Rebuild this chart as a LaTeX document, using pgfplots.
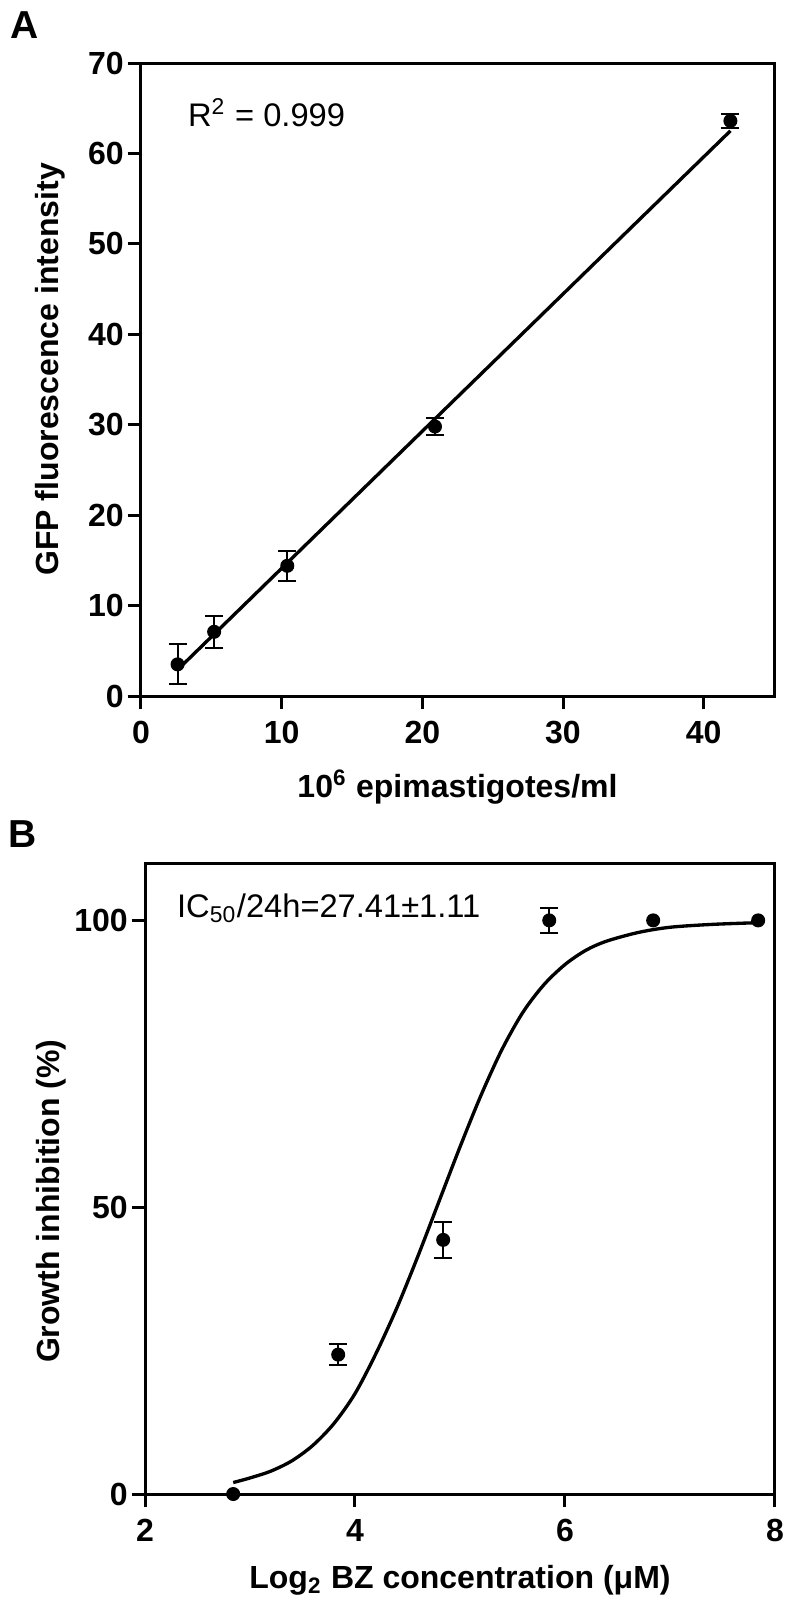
\documentclass[border=0pt]{standalone}
\usepackage{fontspec}
\setmainfont{Liberation Sans}
\usepackage{pgfplots}
\usepackage{pgfplotstable}
\pgfplotsset{compat=1.18}

% panel A: calibration points
\pgfplotstableread{
x     y     e
2.6   3.5   2.2
5.2   7.1   1.8
10.4  14.4  1.65
20.9  29.8  0.9
41.9  63.6  0.8
}\calib

% panel B: points with visible error bars
\pgfplotstableread{
x     y     e
3.84  24.3  1.8
4.84  44.3  3.2
5.85  100   2.2
}\inhibErr

% panel B: points without error bars
\pgfplotstableread{
x     y
2.84  0
6.84  100
7.84  100
}\inhibNoErr

% panel B: fitted dose-response curve
\pgfplotstableread{
x     y
2.84  2.0
3.0   2.8
3.2   4.0
3.4   5.8
3.6   8.5
3.8   12.3
4.0   17.5
4.2   24.5
4.4   32.5
4.6   41.5
4.8   51.0
5.0   60.5
5.2   69.5
5.4   77.5
5.6   84.0
5.8   88.8
6.0   92.3
6.2   94.8
6.4   96.4
6.7   97.9
7.0   98.8
7.4   99.3
7.84  99.6
}\curve

\pgfplotsset{
  gp/.style={
    scale only axis, clip=false,
    axis line style={line width=0.9pt},
    tick align=outside, tick pos=left,
    major tick length=4pt,
    every tick/.append style={black, line width=0.9pt},
    /pgf/number format/assume math mode=true,
    tick label style={font=\fontsize{9.6}{11}\selectfont\bfseries},
    yticklabel style={inner sep=1pt},
    label style={font=\fontsize{9.6}{11}\selectfont\bfseries},
  },
  dots/.style={black, only marks, mark=*, mark size=1.9pt},
  errs/.style={dots, error bars/.cd, y dir=both, y explicit,
    error bar style={line width=0.6pt},
    error mark options={rotate=90, mark size=2.7pt, line width=0.6pt}},
}

\begin{document}
\begin{tikzpicture}
\useasboundingbox (0pt,0pt) rectangle (236.7pt,-482.1pt);

\node[anchor=base west, inner sep=0, font=\fontsize{11.7}{13}\selectfont\bfseries] at (3pt,-11.4pt) {A};
\begin{axis}[gp,
    at={(42.3pt,-208.8pt)}, anchor=south west,
    width=189.9pt, height=189.9pt,
    xmin=0, xmax=45, ymin=0, ymax=70,
    xtick={0,10,20,30,40}, ytick={0,10,...,70},
    xlabel={10\textsuperscript{6} epimastigotes/ml},
    ylabel={GFP fluorescence intensity},
    xlabel style={at={(axis description cs:0.5,-0.1438)}, anchor=center},
    ylabel style={at={(axis description cs:-0.1438,0.516)}, anchor=center},
]
\addplot[black, line width=1pt] coordinates {(2.6,2.9) (41.9,62.5)};
\addplot[errs] table[x=x, y=y, y error=e] {\calib};
\node[anchor=base west, inner sep=0, font=\fontsize{9.8}{11}\selectfont] at (axis cs:3.3,63) {R\textsuperscript{2} = 0.999};
\end{axis}

\node[anchor=base west, inner sep=0, font=\fontsize{11.7}{13}\selectfont\bfseries] at (2.4pt,-254.1pt) {B};
\begin{axis}[gp,
    at={(43.5pt,-448.2pt)}, anchor=south west,
    width=189pt, height=189.3pt,
    xmin=2, xmax=8, ymin=0, ymax=110,
    xtick={2,4,6,8}, ytick={0,50,100},
    xlabel={Log\textsubscript{2} BZ concentration (μM)},
    ylabel={Growth inhibition (\%)},
    xlabel style={at={(axis description cs:0.5,-0.136)}, anchor=center},
    ylabel style={at={(axis description cs:-0.149,0.464)}, anchor=center},
]
\addplot[black, line width=1pt, smooth] table[x=x, y=y] {\curve};
\addplot[errs] table[x=x, y=y, y error=e] {\inhibErr};
\addplot[dots] table[x=x, y=y] {\inhibNoErr};
\node[anchor=base west, inner sep=0, font=\fontsize{9.8}{11}\selectfont] at (axis cs:2.3,100.5) {IC\textsubscript{50}/24h=27.41±1.11};
\end{axis}
\end{tikzpicture}
\end{document}
